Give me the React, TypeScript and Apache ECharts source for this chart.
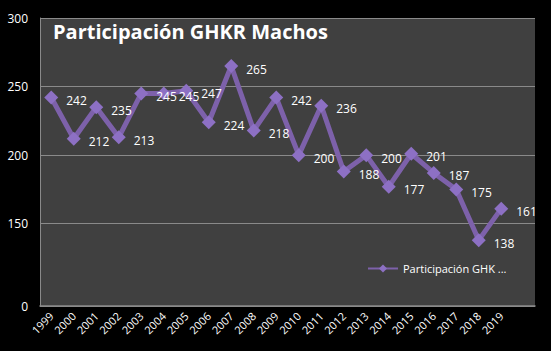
import React, { useEffect, useRef } from "react";
import * as echarts from "echarts";

const years = ["1999","2000","2001","2002","2003","2004","2005","2006","2007","2008","2009","2010","2011","2012","2013","2014","2015","2016","2017","2018","2019"];
const values = [242,212,235,213,245,245,247,224,265,218,242,200,236,188,200,177,201,187,175,138,161];
const yTickValues = [90,150,200,250,300];
const yTickLabels = ["0","150","200","250","300"];
const seriesName = "Participación GHKR Machos";
const titleText = "Participación GHKR Machos";
const legendText = "Participación GHK ...";

export default function App() {
  const ref = useRef<HTMLDivElement>(null);
  useEffect(() => {
    const chart = echarts.init(ref.current!, null, { renderer: "svg" });
    chart.setOption({
      animation: false,
      backgroundColor: "#000000",
      textStyle: { fontFamily: "Open Sans" },
      title: {
        text: titleText,
        left: 48,
        top: 16,
        textStyle: { color: "#ffffff", fontSize: 20, fontWeight: "bold", fontFamily: "Open Sans" },
      },
      legend: {
        left: 362,
        top: 258,
        itemWidth: 30,
        itemHeight: 10,
        itemGap: 4,
        textStyle: { color: "#ffffff", fontSize: 11 },
        formatter: () => legendText,
      },
      grid: {
        left: 40,
        right: 16,
        top: 18,
        bottom: 45,
        show: true,
        backgroundColor: "#404040",
        borderWidth: 0,
      },
      xAxis: {
        type: "category",
        data: [...years, ""],
        boundaryGap: true,
        axisLine: { show: true, lineStyle: { color: "#8a8a8a", width: 1.5 } },
        axisTick: { show: false },
        axisLabel: { color: "#ffffff", fontSize: 11, rotate: 45, margin: 8, interval: 0 },
      },
      yAxis: {
        type: "value",
        min: 90,
        max: 300,
        axisLine: { show: true, lineStyle: { color: "#8a8a8a", width: 1 } },
        axisTick: { show: false, customValues: yTickValues },
        axisLabel: {
          color: "#ffffff",
          fontSize: 12,
          margin: 12,
          customValues: yTickValues,
          formatter: (v: number) => yTickLabels[yTickValues.indexOf(v)] ?? "",
        },
        splitLine: { show: true, lineStyle: { color: "#8a8a8a", width: 1 } },
      },
      series: [
        {
          name: seriesName,
          type: "line",
          data: values,
          symbol: "diamond",
          symbolSize: 14,
          lineStyle: { color: "#7d61aa", width: 5 },
          itemStyle: { color: "#8d70c4" },
          label: {
            show: true,
            position: "right",
            offset: [3, 3],
            color: "#ffffff",
            fontSize: 12,
          },
        },
      ],
    });
    return () => chart.dispose();
  }, []);
  return <div ref={ref} style={{ width: 551, height: 351, position: "absolute", left: 0, top: 0 }} />;
}
